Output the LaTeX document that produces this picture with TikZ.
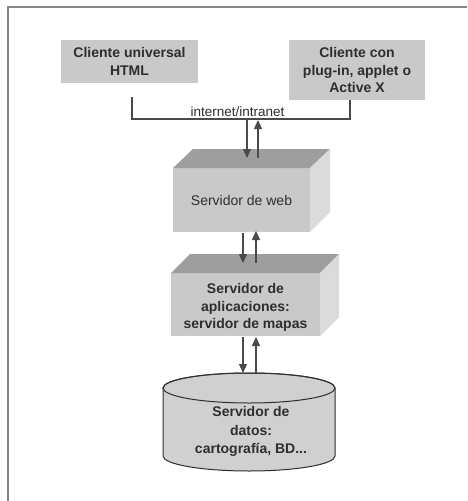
\documentclass[tikz,border=0pt]{standalone}
\usepackage{fontspec}
\setmainfont{Liberation Sans}
\usetikzlibrary{arrows.meta}
\definecolor{framegray}{HTML}{858585}
\definecolor{face}{HTML}{C9C9C9}
\definecolor{topface}{HTML}{9E9E9E}
\definecolor{sideface}{HTML}{DBDBDB}
\definecolor{cylfill}{HTML}{D0D0D0}
\definecolor{ink}{HTML}{2E2E2E}
\definecolor{wire}{HTML}{4A4A4A}

\begin{document}
\begin{tikzpicture}[x=1pt,y=-1pt,
  plain/.style={font=\fontsize{14}{17.5}\selectfont, text=ink, align=center, inner sep=0pt},
  boldtxt/.style={font=\bfseries\fontsize{14}{17.5}\selectfont, text=ink, align=center, inner sep=0pt},
  client/.style={boldtxt, fill=face},
  flow/.style={draw=wire, line width=1.1pt, -{Triangle[width=8pt,length=9pt]}},
  link/.style={draw=wire, line width=1.1pt}]

\useasboundingbox (0,0) rectangle (467,501);
\fill[white] (0,0) rectangle (467,501);
\draw[framegray, line width=2pt] (8,501) -- (8,7) -- (467,7);

% clients
\node[client, minimum width=137pt, minimum height=43pt] (cliA) at (129.5,61.5)
  {Cliente universal\\HTML};
\node[client, minimum width=136pt, minimum height=60pt] (cliB) at (357,70)
  {Cliente con\\plug-in, applet o\\Active X};

% internet / intranet bus
\coordinate (busL) at (132,97);
\coordinate (busR) at (350,100);
\coordinate (bus) at (240,119);
\draw[link] (busL) |- (bus) -| (busR);
\node[plain, font=\fontsize{13.5}{16}\selectfont, anchor=base] (net) at (237.5,116) {internet/intranet};

% web server block
\fill[face] (173,168) rectangle (310,232);
\fill[topface] (173,168) -- (193,149) -- (330,149) -- (310,168) -- cycle;
\fill[sideface] (310,168) -- (330,149) -- (330,212) -- (310,232) -- cycle;
\node[plain] (web) at (241.5,200) {Servidor de web};

% application server block
\fill[face] (171,273) rectangle (320,336);
\fill[topface] (171,273) -- (190,254) -- (339,254) -- (320,273) -- cycle;
\fill[sideface] (320,273) -- (339,254) -- (339,317) -- (320,336) -- cycle;
\node[boldtxt] (app) at (245.5,307.5) {Servidor de\\aplicaciones:\\servidor de mapas};

% data server cylinder
\filldraw[fill=cylfill, draw=ink, line width=1pt]
  (163,388) -- (163,456) arc[start angle=180, end angle=360, x radius=86pt, y radius=15pt]
  -- (335,388) arc[start angle=0, end angle=180, x radius=86pt, y radius=15pt] -- cycle;
\draw[ink, line width=1pt] (249,388) ellipse [x radius=86pt, y radius=15pt];
\node[boldtxt, font=\bfseries\fontsize{14}{18.5}\selectfont] (db) at (251,431.5)
  {Servidor de\\datos:\\cartografía, BD...};

% request / response arrows
\coordinate (a1) at (247,119);  \coordinate (a2) at (247,158);
\coordinate (b1) at (258,158);  \coordinate (b2) at (258,120);
\coordinate (c1) at (243,233);  \coordinate (c2) at (243,263);
\coordinate (d1) at (256,263);  \coordinate (d2) at (256,231);
\coordinate (e1) at (243,337);  \coordinate (e2) at (243,373);
\coordinate (f1) at (256,373);  \coordinate (f2) at (256,337);
\draw[flow] (a1) -- (a2);
\draw[flow] (b1) -- (b2);
\draw[flow] (c1) -- (c2);
\draw[flow] (d1) -- (d2);
\draw[flow] (e1) -- (e2);
\draw[flow] (f1) -- (f2);
\end{tikzpicture}
\end{document}
